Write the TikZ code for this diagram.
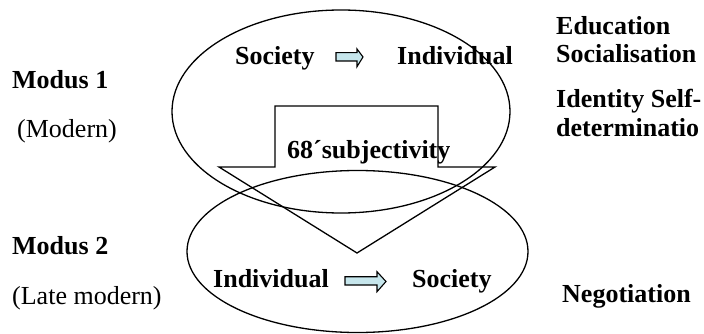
\documentclass[tikz,border=0pt]{standalone}
\usepackage{fontspec}
\setmainfont{Liberation Serif}
\begin{document}
\begin{tikzpicture}[x=1pt,y=-1pt,
  lbl/.style={anchor=base west,inner sep=0pt,font=\fontsize{26}{30}\selectfont},
  blbl/.style={lbl,font=\fontsize{26}{30}\selectfont\bfseries},
  outline/.style={draw=black,line width=1.3pt},
  smallarrow/.style={draw=black,line width=1.1pt,fill=arrowfill,line join=miter}]
\definecolor{arrowfill}{RGB}{198,230,236}
\useasboundingbox (0,0) rectangle (704,334);

% the two modus ellipses
\draw[outline] (341,111.5) ellipse [x radius=169, y radius=101.5];
\draw[outline] (357.5,251.5) ellipse [x radius=170.5, y radius=81];

% big block arrow from modus 1 down to modus 2
\draw[outline,line join=miter] (275,106) -- (438,106) -- (438,167) -- (495,167)
  -- (357,253) -- (219,167) -- (275,167) -- cycle;
\node[blbl] (subj) at (287,158) {68´subjectivity};

% left labels
\node[blbl] (m1) at (12,89) {Modus 1};
\node[lbl] (m1b) at (17,138) {(Modern)};
\node[blbl] (m2) at (12,254) {Modus 2};
\node[lbl] (m2b) at (12,304) {(Late modern)};

% upper relation
\node[blbl] (soc1) at (235,65) {Society};
\node[blbl] (ind1) at (397,65) {Individual};
\draw[smallarrow] (336,52.7) -- (357,52.7) -- (357,49) -- (363,57) -- (357,66.7)
  -- (357,61) -- (336,61) -- cycle;

% lower relation
\node[blbl] (ind2) at (213,287) {Individual};
\node[blbl] (soc2) at (412,287) {Society};
\draw[smallarrow] (345,276.7) -- (377,276.7) -- (377,271.7) -- (386,281.5) -- (377,291.7)
  -- (377,285) -- (345,285) -- cycle;

% right labels
\node[blbl] (edu) at (556,35) {Education};
\node[blbl] (socl) at (556,63) {Socialisation};
\node[blbl] (idt) at (556,108) {Identity Self-};
\node[blbl] (det) at (556,137) {determinatio};
\node[blbl] (neg) at (562,302) {Negotiation};
\end{tikzpicture}
\end{document}
